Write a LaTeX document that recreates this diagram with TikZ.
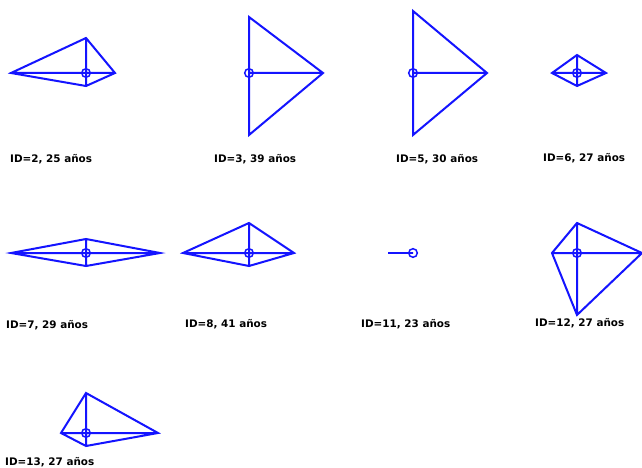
\documentclass[tikz,border=0pt]{standalone}
\usepackage{fontspec}
\setsansfont{DejaVu Sans}
\usepackage{xcolor}
\usepackage{tikz}
\definecolor{kblue}{HTML}{1414FF}
\tikzset{
  kline/.style={kblue,line width=2pt,line join=miter},
  lbl/.style={anchor=base west,inner sep=0pt,font=\sffamily\bfseries\fontsize{10.4}{12}\selectfont}
}
\newcommand{\kite}[7]{\coordinate (c#1) at (#2,#3); \coordinate (l#1) at (#4,#3);
  \coordinate (t#1) at (#2,#5); \coordinate (r#1) at (#6,#3); \coordinate (b#1) at (#2,#7);
  \draw[kline] (l#1)--(t#1)--(r#1)--(b#1)--cycle (l#1)--(r#1) (t#1)--(b#1);
  \draw[kline,line width=1.5pt] (c#1) circle (4.3);}

\begin{document}
\begin{tikzpicture}[x=1pt,y=-1pt]
\fill[white] (0,0) rectangle (642,468);
\useasboundingbox (0,0) rectangle (642,468);
\clip (0,0) rectangle (642,468);
\kite{2}{86}{73}{11}{38}{115}{86}
\kite{3}{249}{73}{249}{17}{323}{135}
\kite{5}{413}{73}{413}{11}{487}{135}
\kite{6}{577}{73}{552}{55}{606}{86}
\kite{7}{86}{253}{11}{239}{160}{266}
\kite{8}{249}{253}{183}{223}{294}{266}
\kite{11}{413}{253}{388}{253}{413}{253}
\kite{12}{577}{253}{552}{223}{642}{315}
\kite{13}{86}{433}{61}{393}{158}{446}
\foreach \n/\lx/\ly/\txt in {2/10/162/{ID=2, 25 años},3/214/162/{ID=3, 39 años},
  5/396/162/{ID=5, 30 años},6/543/161/{ID=6, 27 años},7/6/328/{ID=7, 29 años},
  8/185/327/{ID=8, 41 años},11/361/327/{ID=11, 23 años},12/535/326/{ID=12, 27 años},
  13/5/465/{ID=13, 27 años}}
  \node[lbl] (lab\n) at (\lx,\ly) {\txt};
\end{tikzpicture}
\end{document}
